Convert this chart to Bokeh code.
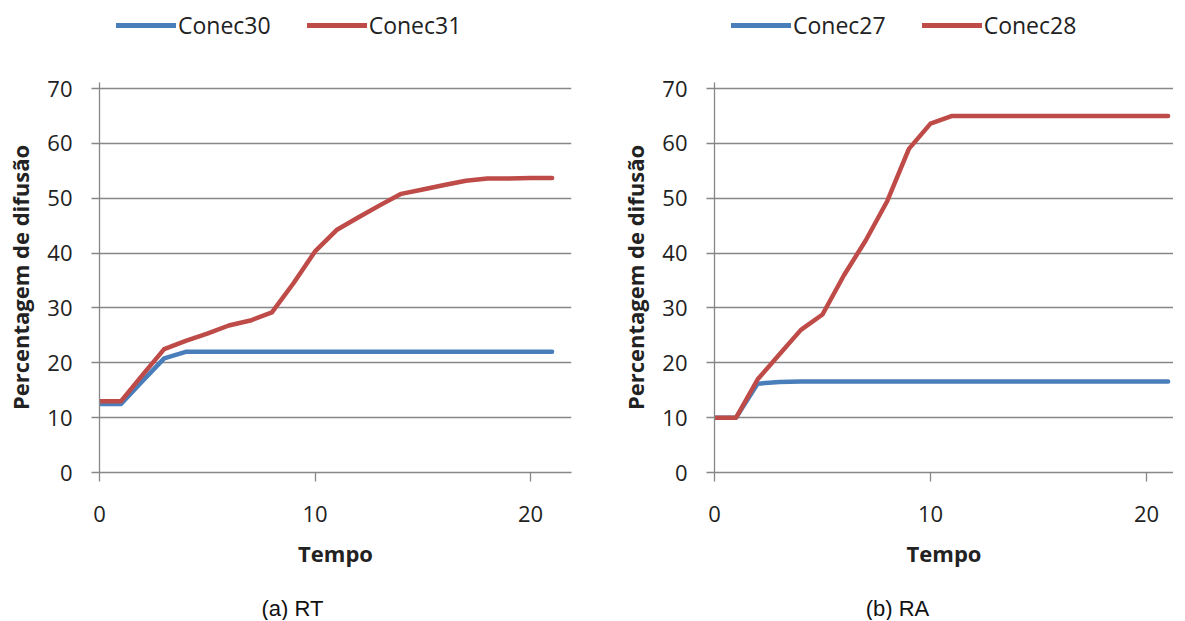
from bokeh.plotting import figure
from bokeh.models import Legend, LegendItem, Label, FixedTicker, Range1d
from bokeh.layouts import row, column
from bokeh.embed import file_html
from bokeh.resources import INLINE

# ---- data ----
tempo = list(range(22))
conec30 = [12.5, 12.5, 16.7, 20.8, 22.0, 22.0, 22.0, 22.0, 22.0, 22.0, 22.0,
           22.0, 22.0, 22.0, 22.0, 22.0, 22.0, 22.0, 22.0, 22.0, 22.0, 22.0]
conec31 = [13.0, 13.0, 17.8, 22.5, 24.0, 25.3, 26.8, 27.7, 29.2, 34.5, 40.3,
           44.2, 46.5, 48.7, 50.8, 51.6, 52.4, 53.2, 53.6, 53.6, 53.7, 53.7]
conec27 = [10.0, 10.0, 16.2, 16.5, 16.6, 16.6, 16.6, 16.6, 16.6, 16.6, 16.6,
           16.6, 16.6, 16.6, 16.6, 16.6, 16.6, 16.6, 16.6, 16.6, 16.6, 16.6]
conec28 = [10.0, 10.0, 17.0, 21.5, 26.0, 28.8, 36.0, 42.3, 49.5, 59.0, 63.6,
           65.0, 65.0, 65.0, 65.0, 65.0, 65.0, 65.0, 65.0, 65.0, 65.0, 65.0]
x_ticks = [0, 10, 20]
y_ticks = [0, 10, 20, 30, 40, 50, 60, 70]
x_label = "Tempo"
y_label = "Percentagem de difusão"

BLUE = "#4A7EBB"
RED = "#BE4B48"
GRID = "#878787"
FONT = "Open Sans"
LEG_H = 50
MAIN_H = 545
CAP_H = 25
BORDER_L = 99


def bare_fig(width, height):
    # strip whose frame is aligned (by the column layout) with the chart's frame;
    # its ranges lie away from the data so only the legend/caption shows
    f = figure(width=width, height=height, output_backend="svg", toolbar_location=None,
               x_axis_location=None, y_axis_location=None, min_border=0,
               x_range=Range1d(-100, -99), y_range=Range1d(-100, -99))
    f.outline_line_color = None
    f.xgrid.grid_line_color = None
    f.ygrid.grid_line_color = None
    return f


def make_panel(blue, red, names, caption, width, border_right, x_end, cap_x):
    # legend strip
    lf = bare_fig(width, LEG_H)
    lb = lf.line(tempo, blue, line_color=BLUE, line_width=5, line_cap="round")
    lr = lf.line(tempo, red, line_color=RED, line_width=5, line_cap="round")
    leg = Legend(items=[LegendItem(label=names[0], renderers=[lb]),
                        LegendItem(label=names[1], renderers=[lr])],
                 orientation="horizontal", location="center_left",
                 glyph_width=60, glyph_height=24, label_standoff=2, spacing=36,
                 padding=0, margin=17, background_fill_alpha=0, border_line_color=None,
                 label_text_font=FONT, label_text_font_size="23px",
                 label_text_color="#222222")
    lf.add_layout(leg)

    # main chart
    p = figure(width=width, height=MAIN_H, output_backend="svg", toolbar_location=None,
               x_range=Range1d(0, x_end), y_range=Range1d(0, 71.1),
               min_border_left=BORDER_L, min_border_right=border_right,
               min_border_top=82 - LEG_H, min_border_bottom=MAIN_H - (472 - LEG_H))
    p.outline_line_color = None
    p.xgrid.grid_line_color = None
    p.ygrid.grid_line_color = GRID
    p.ygrid.grid_line_width = 1.3
    p.ygrid.ticker = FixedTicker(ticks=y_ticks)
    p.xaxis.ticker = FixedTicker(ticks=x_ticks)
    p.yaxis.ticker = FixedTicker(ticks=y_ticks)
    for ax in (p.xaxis[0], p.yaxis[0]):
        ax.axis_line_color = GRID
        ax.axis_line_width = 1.3
        ax.major_tick_line_color = GRID
        ax.major_tick_line_width = 1.3
        ax.minor_tick_line_color = None
        ax.major_tick_in = 0
        ax.major_label_text_font = FONT
        ax.major_label_text_font_size = "22px"
        ax.major_label_text_color = "#222222"
        ax.axis_label_text_font = FONT
        ax.axis_label_text_font_size = "22px"
        ax.axis_label_text_font_style = "bold"
        ax.axis_label_text_color = "#222222"
    p.xaxis.major_tick_out = 9
    p.yaxis.major_tick_out = 8
    p.xaxis.major_label_standoff = 24
    p.yaxis.major_label_standoff = 19
    p.xaxis.axis_label = x_label
    p.yaxis.axis_label = y_label
    p.xaxis.axis_label_standoff = 13
    p.yaxis.axis_label_standoff = 9

    p.line(tempo, blue, line_color=BLUE, line_width=4.5, line_join="round", line_cap="round")
    p.line(tempo, red, line_color=RED, line_width=4.5, line_join="round", line_cap="round")

    # caption strip
    cf = bare_fig(width, CAP_H)
    cf.add_layout(Label(x=cap_x, y=CAP_H / 2, x_units="screen", y_units="screen",
                        text=caption, text_font="Liberation Sans", text_font_size="22px",
                        text_align="center", text_baseline="middle", text_color="#111111"))
    return column(lf, p, cf, spacing=0)


c1 = make_panel(conec30, conec31, ["Conec30", "Conec31"], "(a) RT", 615, 44, 21.9, 193)
c2 = make_panel(conec27, conec28, ["Conec27", "Conec28"], "(b) RA", 558, 0, 21.25, 183)
layout = row(c1, c2, spacing=0)

open("out.html", "w").write(file_html(layout, INLINE))
